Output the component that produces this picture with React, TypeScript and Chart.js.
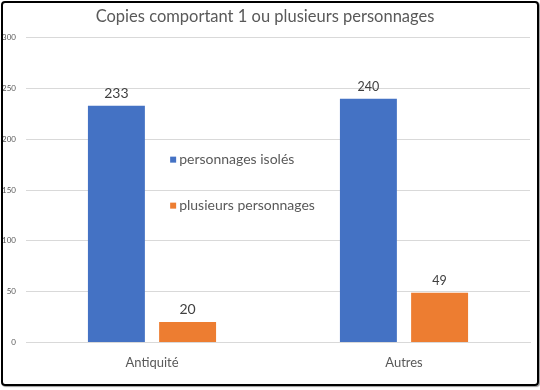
import React, { useEffect, useRef } from "react";
import { Chart, registerables } from "chart.js";

Chart.register(...registerables);

const categories = ["Antiquité", "Autres"];
const seriesNames = ["personnages isolés", "plusieurs personnages"];
const isoles = [233, 240];
const plusieurs = [20, 49];
const yTicks = [0, 50, 100, 150, 200, 250, 300];
const titleText = "Copies comportant 1 ou plusieurs personnages";
const labelSizes = [14, 12.5];

const BLUE = "#4472C4";
const ORANGE = "#ED7D31";
const FONT = "Lato, 'Open Sans', sans-serif";

const dataLabelPlugin = {
  id: "dataLabels",
  afterDatasetsDraw(chart: any) {
    const ctx = chart.ctx;
    ctx.save();
    ctx.fillStyle = "#404040";
    ctx.textAlign = "center";
    ctx.textBaseline = "alphabetic";
    chart.data.datasets.forEach((ds: any, i: number) => {
      const meta = chart.getDatasetMeta(i);
      meta.data.forEach((bar: any, j: number) => {
        ctx.font = `${labelSizes[j]}px ${FONT}`;
        ctx.fillText(String(ds.data[j]), bar.x, bar.y - 8);
      });
    });
    ctx.restore();
  },
};

const innerLegendPlugin = {
  id: "innerLegend",
  afterDraw(chart: any, _args: any, opts: any) {
    const ctx = chart.ctx;
    const area = chart.chartArea;
    const x0 = area.left + opts.xFrac * (area.right - area.left);
    const y0 = area.top + opts.yFrac * (area.bottom - area.top);
    ctx.save();
    ctx.font = `14px ${FONT}`;
    ctx.textBaseline = "middle";
    ctx.textAlign = "left";
    chart.data.datasets.forEach((ds: any, i: number) => {
      const y = y0 + i * opts.spacing;
      ctx.fillStyle = ds.backgroundColor;
      ctx.fillRect(x0, y - 3, 6, 6);
      ctx.fillStyle = "#595959";
      ctx.fillText(ds.label, x0 + 9, y);
    });
    ctx.restore();
  },
};

export default function App() {
  const ref = useRef<HTMLCanvasElement>(null);
  useEffect(() => {
    if (!ref.current) return;
    const chart = new Chart(ref.current, {
      type: "bar",
      data: {
        labels: categories,
        datasets: [
          { label: seriesNames[0], data: isoles, backgroundColor: BLUE },
          { label: seriesNames[1], data: plusieurs, backgroundColor: ORANGE },
        ],
      },
      options: {
        animation: false,
        responsive: false,
        maintainAspectRatio: false,
        layout: { padding: { left: 0, right: 10, top: 0, bottom: 6 } },
        datasets: { bar: { categoryPercentage: 0.565, barPercentage: 0.8 } },
        plugins: {
          legend: { display: false },
          tooltip: { enabled: false },
          title: {
            display: true,
            text: titleText,
            color: "#595959",
            font: { family: FONT, size: 16.5, weight: "normal" },
            padding: { top: 7, bottom: 11 },
          },
          innerLegend: { xFrac: 0.286, yFrac: 0.40, spacing: 46 },
        } as any,
        scales: {
          x: {
            grid: { display: false, drawTicks: false },
            border: { display: true, color: "#d9d9d9" },
            ticks: {
              color: "#595959",
              font: { family: FONT, size: 13 },
              padding: 13,
            },
          },
          y: {
            min: 0,
            max: 300,
            afterBuildTicks: (scale: any) => {
              scale.ticks = yTicks.map((v) => ({ value: v }));
            },
            afterFit: (scale: any) => {
              scale.width = 26;
            },
            grid: { color: "#d9d9d9", drawTicks: false },
            border: { display: false },
            ticks: {
              color: "#595959",
              font: { family: FONT, size: 8 },
              padding: 10,
            },
          },
        },
      },
      plugins: [dataLabelPlugin, innerLegendPlugin],
    });
    return () => chart.destroy();
  }, []);
  return (
    <div style={{ position: "absolute", left: 0, top: 0, width: 540, height: 390, background: "#fff" }}>
      <canvas ref={ref} width={540} height={390} style={{ position: "absolute", left: 0, top: 0 }} />
      <div
        style={{
          position: "absolute",
          left: 1,
          top: 1,
          width: 538,
          height: 385,
          boxSizing: "border-box",
          border: "2.5px solid #000",
          borderRadius: 4,
          boxShadow: "1px 1px 1px rgba(0,0,0,0.4)",
          pointerEvents: "none",
        }}
      />
    </div>
  );
}
